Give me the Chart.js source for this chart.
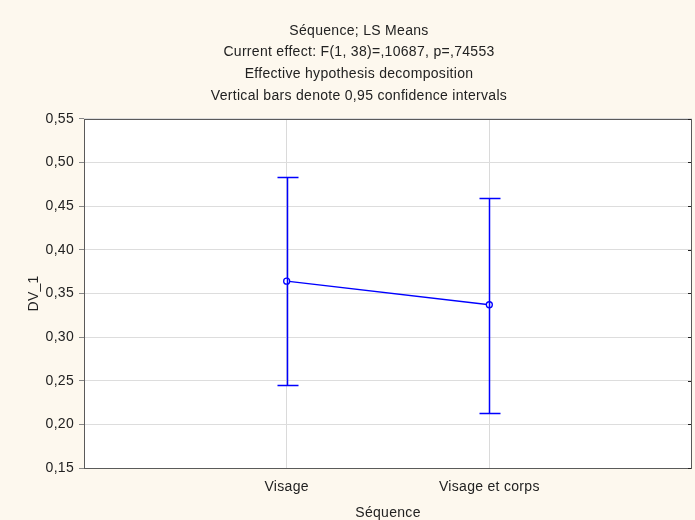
<!DOCTYPE html>
<html>
<head>
<meta charset="utf-8">
<script src="https://cdn.jsdelivr.net/npm/chart.js@4/dist/chart.umd.min.js"></script>
<style>
html,body{margin:0;padding:0;background:#FDF8EE;}
#wrap{width:695px;height:520px;}
</style>
</head>
<body>
<div id="wrap"><canvas id="c" width="695" height="520"></canvas></div>
<script>
const categories = ["Visage", "Visage et corps"];
const means = [0.364, 0.337];
const upper = [0.483, 0.459];
const lower = [0.245, 0.213];
const yTicks = [0.15, 0.20, 0.25, 0.30, 0.35, 0.40, 0.45, 0.50, 0.55];
const titleLines = ["Séquence; LS Means", "Current effect: F(1, 38)=,10687, p=,74553", "Effective hypothesis decomposition", "Vertical bars denote 0,95 confidence intervals"];

const BLUE = "#0000FF";
const FONT = "'Liberation Sans', Arial, sans-serif";
const TXT = "#222222";

const spacingPlugin = {
  id: "spacing",
  beforeUpdate(chart) { chart.ctx.letterSpacing = "0.3px"; },
  beforeDraw(chart) { chart.ctx.letterSpacing = "0.3px"; }
};

const bgPlugin = {
  id: "bg",
  beforeDraw(chart) {
    const ctx = chart.ctx, a = chart.chartArea;
    ctx.save();
    ctx.fillStyle = "#FDF8EE";
    ctx.fillRect(0, 0, chart.width, chart.height);
    ctx.fillStyle = "#FFFFFF";
    ctx.fillRect(a.left, a.top, a.right - a.left, a.bottom - a.top);
    ctx.restore();
  },
  afterDraw(chart) {
    const ctx = chart.ctx, a = chart.chartArea;
    ctx.save();
    ctx.strokeStyle = "#5A5A5A";
    ctx.lineWidth = 1;
    ctx.strokeRect(Math.round(a.left) + 0.5, Math.round(a.top) + 0.5,
                   Math.round(a.right - a.left) - 1, Math.round(a.bottom - a.top));
    const ys = chart.scales.y;
    ctx.strokeStyle = "#222";
    yTicks.forEach(v => {
      const py = Math.round(ys.getPixelForValue(v)) + 0.5;
      ctx.beginPath(); ctx.moveTo(a.right - 4, py); ctx.lineTo(a.right - 1, py); ctx.stroke();
    });
    // error bars, positioned through the chart scales
    const xs = chart.scales.x;
    ctx.strokeStyle = BLUE;
    ctx.lineWidth = 1.5;
    categories.forEach((c, i) => {
      const px = Math.round(xs.getPixelForValue(i + 1)) + 0.5;
      const pt = Math.round(ys.getPixelForValue(upper[i])) + 0.5;
      const pb = Math.round(ys.getPixelForValue(lower[i])) + 0.5;
      ctx.beginPath();
      ctx.moveTo(px, pt); ctx.lineTo(px, pb);
      ctx.moveTo(px - 10, pt); ctx.lineTo(px + 11, pt);
      ctx.moveTo(px - 10, pb); ctx.lineTo(px + 11, pb);
      ctx.stroke();
    });
    ctx.restore();
  }
};

new Chart(document.getElementById("c"), {
  type: "line",
  data: {
    datasets: [{
      data: means.map((m, i) => ({ x: i + 1, y: m })),
      borderColor: BLUE,
      borderWidth: 1.3,
      pointRadius: 3,
      pointBorderWidth: 1.3,
      pointBorderColor: BLUE,
      pointBackgroundColor: "#FFFFFF",
      tension: 0
    }]
  },
  options: {
    responsive: false,
    animation: false,
    devicePixelRatio: 1,
    layout: { autoPadding: false, padding: { left: 26, right: 3, top: 0, bottom: 0 } },
    plugins: {
      legend: { display: false },
      tooltip: { enabled: false },
      title: {
        display: true,
        text: titleLines,
        color: TXT,
        font: { family: FONT, size: 14, weight: "normal", lineHeight: 1.55 },
        padding: { top: 20, bottom: 12 }
      }
    },
    scales: {
      x: {
        type: "linear",
        min: 0, max: 3,
        afterBuildTicks(scale) { scale.ticks = categories.map((c, i) => ({ value: i + 1 })); },
        afterFit(scale) { scale.height = 52; scale.paddingRight = 0; scale.paddingLeft = 0; },
        ticks: {
          color: TXT,
          font: { family: FONT, size: 14 },
          padding: 11,
          callback: (v) => categories[Math.round(v) - 1]
        },
        grid: { color: "#DADADA", drawTicks: false },
        border: { display: false },
        title: {
          display: true, text: "Séquence", color: TXT,
          font: { family: FONT, size: 14 }, padding: { top: 4, bottom: -2 }
        }
      },
      y: {
        min: 0.15, max: 0.55,
        afterBuildTicks(scale) { scale.ticks = yTicks.map(v => ({ value: v })); },
        afterFit(scale) { scale.width = 58; },
        ticks: {
          color: TXT,
          font: { family: FONT, size: 14 },
          padding: 5,
          callback: (v) => v.toFixed(2).replace(".", ",")
        },
        grid: { color: "#DDDDDD", tickLength: 5, tickColor: "#888" },
        border: { display: false },
        title: {
          display: true, text: "DV_1", color: TXT,
          font: { family: FONT, size: 14 }, padding: { top: 0, bottom: 0 }
        }
      }
    }
  },
  plugins: [spacingPlugin, bgPlugin]
});
</script>
</body>
</html>
